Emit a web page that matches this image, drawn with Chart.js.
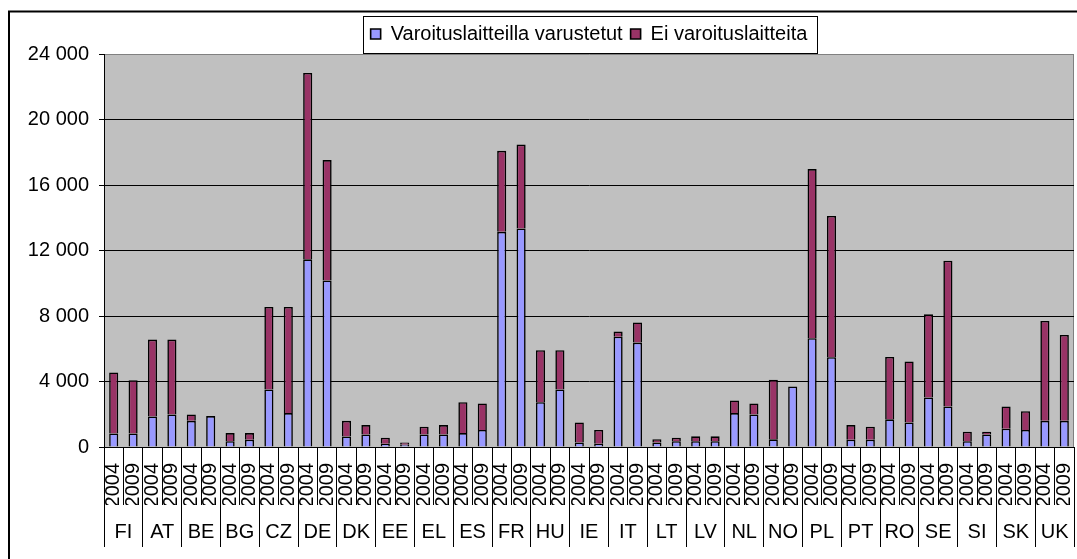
<!DOCTYPE html>
<html>
<head>
<meta charset="utf-8">
<script src="https://cdn.jsdelivr.net/npm/chart.js@4.4.1/dist/chart.umd.min.js"></script>
<style>
  html, body { margin: 0; padding: 0; background: #fff; }
  canvas { display: block; }
</style>
</head>
<body>
<canvas id="chart" width="1077" height="559"></canvas>
<script>
const countries = ['FI', 'AT', 'BE', 'BG', 'CZ', 'DE', 'DK', 'EE', 'EL', 'ES', 'FR', 'HU', 'IE',
  'IT', 'LT', 'LV', 'NL', 'NO', 'PL', 'PT', 'RO', 'SE', 'SI', 'SK', 'UK'];
const years = ['2004', '2009'];

// pairs: 2004, 2009 for each country
const equipped = [830, 830, 1870, 1990, 1600, 1890, 350, 450, 3510, 2070,
  11460, 10170, 640, 770, 200, 140, 770, 770, 850, 1040,
  13140, 13350, 2740, 3510, 280, 200, 6740, 6380, 280, 350,
  350, 350, 2070, 1990, 470, 3700, 6640, 5480, 450, 450,
  1690, 1500, 3030, 2480, 350, 770, 1120, 1040, 1600, 1600];
const notEquipped = [3720, 3250, 4690, 4570, 390, 0, 500, 400, 5040, 6480,
  11380, 7350, 960, 570, 370, 140, 470, 570, 1890, 1620,
  4950, 5120, 3170, 2400, 1220, 840, 310, 1230, 190, 220,
  300, 300, 770, 670, 3630, 0, 10330, 8630, 890, 790,
  3810, 3720, 5070, 8900, 580, 160, 1360, 1150, 6100, 5240];
const yTickLabels = ['0', '4 000', '8 000', '12 000', '16 000', '20 000', '24 000'];

const labels = [];
countries.forEach(() => years.forEach(y => labels.push(y)));

const font = { family: 'Liberation Sans', size: 20 };

const frame = {
  id: 'frame',
  beforeDraw(chart) {
    const ctx = chart.ctx, a = chart.chartArea;
    ctx.save();
    ctx.strokeStyle = '#000';
    ctx.lineWidth = 2;
    ctx.strokeRect(9, 11.5, 1200, 700);
    ctx.fillStyle = '#c0c0c0';
    ctx.fillRect(a.left, a.top, a.right - a.left, a.bottom - a.top);
    ctx.strokeStyle = '#808080';
    ctx.lineWidth = 1;
    ctx.beginPath();
    ctx.moveTo(a.right - 0.5, a.top);
    ctx.lineTo(a.right - 0.5, a.bottom);
    ctx.stroke();
    ctx.restore();
  },
  afterLayout(chart) {
    // center the legend over the plot area
    const lg = chart.legend, a = chart.chartArea;
    lg.left = a.left;
    lg.right = a.right;
    lg.width = a.right - a.left;
  },
  afterDraw(chart) {
    const ctx = chart.ctx, lg = chart.legend, hb = lg.legendHitBoxes;
    const last = hb[hb.length - 1];
    const l = Math.round(hb[0].left - 8) + 0.5;
    const r = Math.round(last.left + last.width + 10) + 0.5;
    ctx.save();
    ctx.strokeStyle = '#000';
    ctx.lineWidth = 1;
    ctx.strokeRect(l, Math.round(lg.top) + 0.5, r - l, lg.height - 1);
    ctx.restore();
  }
};

new Chart(document.getElementById('chart'), {
  type: 'bar',
  data: {
    labels: labels,
    datasets: [{
      label: 'Varoituslaitteilla varustetut',
      data: equipped,
      backgroundColor: '#9999ff',
      borderColor: '#000',
      borderWidth: 1.6,
      categoryPercentage: 1,
      barPercentage: 0.47
    }, {
      label: 'Ei varoituslaitteita',
      data: notEquipped,
      backgroundColor: '#993366',
      borderColor: '#000',
      borderWidth: 1.6,
      categoryPercentage: 1,
      barPercentage: 0.47
    }]
  },
  options: {
    responsive: false,
    animation: false,
    devicePixelRatio: 1,
    layout: { padding: { top: 16, right: 3, bottom: 12, left: 0 } },
    plugins: {
      legend: {
        position: 'top',
        labels: { boxWidth: 10, boxHeight: 10, padding: 8, color: '#000', font: font }
      },
      tooltip: { enabled: false }
    },
    scales: {
      x: {
        stacked: true,
        offset: true,
        border: { color: '#000' },
        grid: { offset: true, drawOnChartArea: false, tickLength: 58, color: '#000' },
        ticks: { minRotation: 90, maxRotation: 90, autoSkip: false, padding: -42, color: '#000', font: font },
        afterFit: s => { s.height = 58; }
      },
      x2: {
        type: 'category',
        labels: countries,
        position: 'bottom',
        weight: 1,
        offset: true,
        border: { display: false },
        grid: { offset: true, drawOnChartArea: false, tickLength: 42, color: '#000' },
        ticks: { autoSkip: false, maxRotation: 0, padding: -27, color: '#000', font: font },
        afterFit: s => { s.height = 42; }
      },
      y: {
        stacked: true,
        min: 0,
        max: 24000,
        border: { color: '#000' },
        grid: {
          color: c => (c.tick && c.tick.value === 24000 ? '#808080' : '#000'),
          tickColor: '#000',
          tickLength: 5
        },
        ticks: { stepSize: 4000, padding: 10, color: '#000', font: font, callback: (v, i) => yTickLabels[i] },
        afterFit: s => { s.width = 104; }
      }
    }
  },
  plugins: [frame]
});
</script>
</body>
</html>
